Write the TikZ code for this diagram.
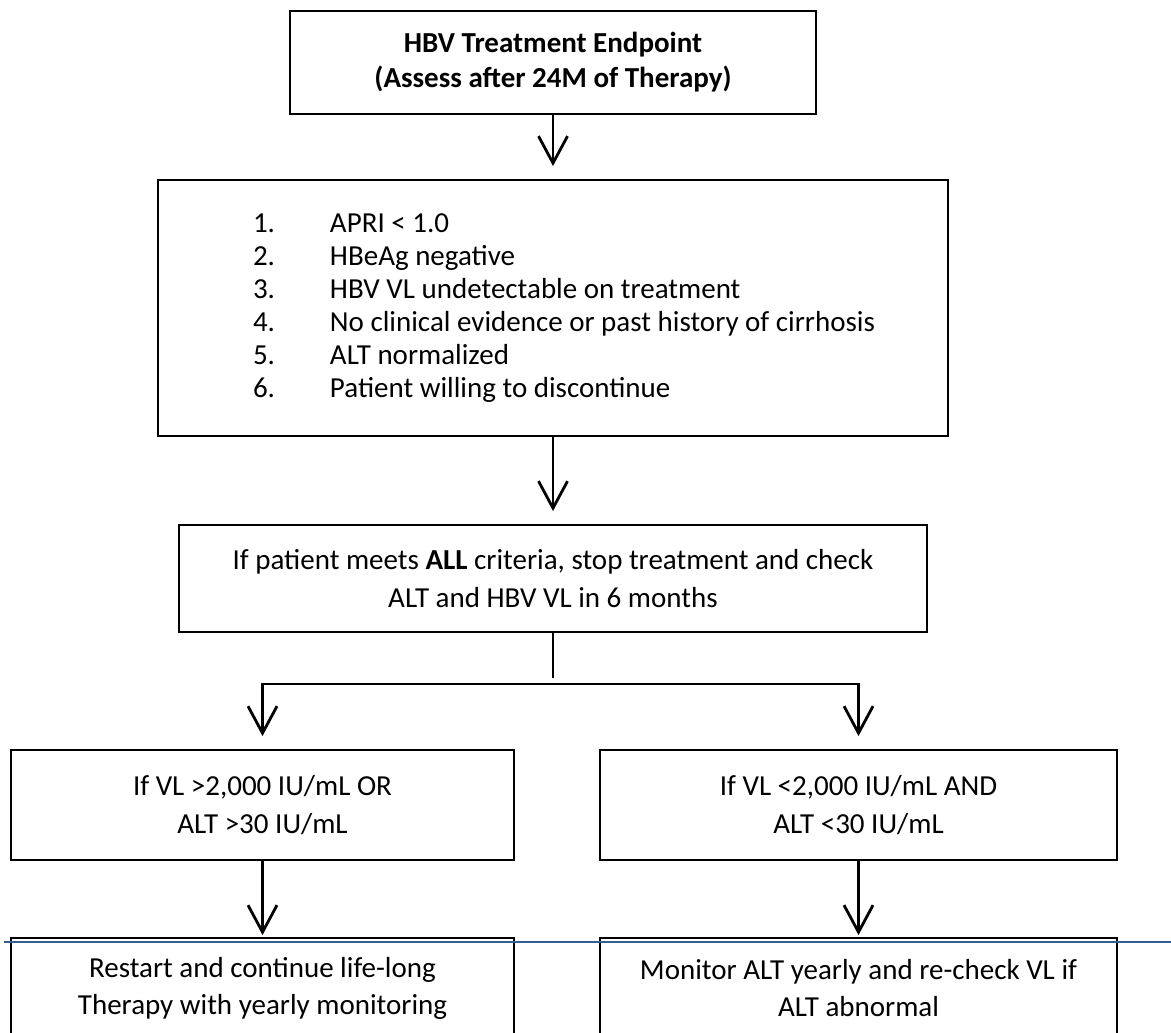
\documentclass[tikz,border=0pt]{standalone}
\usepackage{fontspec}
\setmainfont{Carlito}
\usepackage{xcolor}
\usetikzlibrary{arrows.meta}
\definecolor{headerblue}{RGB}{54,95,145}
\tikzset{
  flowbox/.style={draw, line width=0.9pt, align=center, inner sep=0pt,
    font=\fontsize{14.5}{19}\selectfont},
  pointer/.style={-{Straight Barb[length=13.5pt,width=14.5pt]}, line width=1.4pt},
}

\begin{document}
\begin{tikzpicture}[x=0.5pt,y=-0.5pt]
\useasboundingbox (0,0) rectangle (1171,1032);
\clip (0,0) rectangle (1171,1032);
% boxes
\node[flowbox, font=\fontsize{14.5}{17.5}\selectfont\bfseries, minimum width=263pt, minimum height=51.5pt] (endpoint) at (553,62.5) {HBV Treatment Endpoint\\(Assess after 24M of Therapy)};
\node[flowbox, align=left, font=\fontsize{14.5}{16.5}\selectfont, text width=395pt, minimum height=128pt] (criteria) at (553,308) {%
  \spaceskip=0pt\xspaceskip=0pt
  \begin{tabular}{@{\hspace{47.5pt}}p{38.5pt}@{}l@{}}
  1. & APRI < 1.0\\
  2. & HBeAg negative\\
  3. & HBV VL undetectable on treatment\\
  4. & No clinical evidence or past history of cirrhosis\\
  5. & ALT normalized\\
  6. & Patient willing to discontinue
  \end{tabular}};
\node[flowbox, minimum width=374pt, minimum height=53.5pt] (stop) at (553,578.5) {If patient meets \textbf{ALL} criteria, stop treatment and check\\ALT and HBV VL in 6 months};
\node[flowbox, minimum width=251.5pt, minimum height=55pt] (high) at (262.5,805) {If VL >2,000 IU/mL OR\\ALT >30 IU/mL};
\node[flowbox, minimum width=258.5pt, minimum height=55pt] (low) at (858.5,805) {If VL <2,000 IU/mL AND\\ALT <30 IU/mL};
\node[flowbox, font=\fontsize{14.5}{18.5}\selectfont, minimum width=251.5pt, minimum height=50pt] (restart) at (262.5,988) {Restart and continue life-long\\Therapy with yearly monitoring};
\node[flowbox, font=\fontsize{14.5}{18.5}\selectfont, minimum width=258.5pt, minimum height=50pt] (monitor) at (858.5,988) {Monitor ALT yearly and re-check VL if\\ALT abnormal};
\coordinate (gap) at (553,678);
\coordinate (bar) at (553,684);
% connectors
\draw[pointer, shorten >=6.5pt] (endpoint.south) -- (criteria.north);
\draw[pointer, shorten >=6.5pt] (criteria.south) -- (stop.north);
\draw[line width=1.4pt] (stop.south) -- (gap);
\draw[pointer, shorten >=6.5pt] (bar) -| (high.north);
\draw[pointer, shorten >=6.5pt] (bar) -| (low.north);
\draw[pointer, shorten >=1pt] (high.south) -- (restart.north);
\draw[pointer, shorten >=1pt] (low.south) -- (monitor.north);
\draw[headerblue, line width=1pt] (4,942) -- (1171,942);
\end{tikzpicture}
\end{document}
